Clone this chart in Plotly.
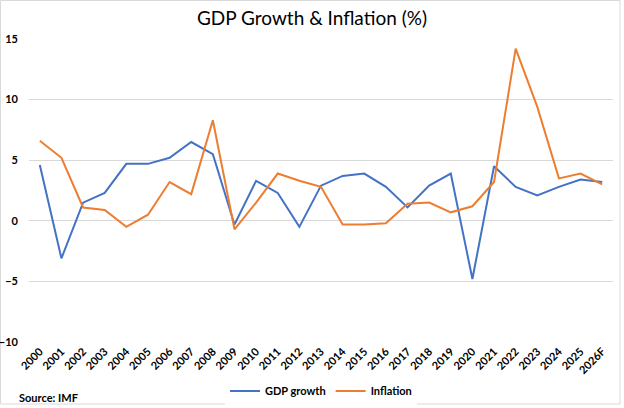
import plotly.graph_objects as go

years = [str(y) for y in range(2000, 2026)] + ["2026F"]
gdp_growth = [4.6, -3.1, 1.5, 2.3, 4.7, 4.7, 5.2, 6.5, 5.5, -0.3, 3.3, 2.3, -0.5,
              2.9, 3.7, 3.9, 2.8, 1.1, 2.9, 3.9, -4.8, 4.5, 2.8, 2.1, 2.8, 3.4, 3.2]
inflation = [6.6, 5.2, 1.1, 0.9, -0.5, 0.5, 3.2, 2.2, 8.3, -0.7, 1.5, 3.9, 3.3,
             2.8, -0.3, -0.3, -0.2, 1.4, 1.5, 0.7, 1.2, 3.2, 14.2, 9.4, 3.5, 3.9, 3.0]
y_ticks = [-10, -5, 0, 5, 10, 15]

FONT = "Lato"
fig = go.Figure()
fig.add_trace(go.Scatter(x=years, y=gdp_growth, mode="lines", name="GDP growth",
                         line=dict(color="#4472C4", width=2)))
fig.add_trace(go.Scatter(x=years, y=inflation, mode="lines", name="Inflation",
                         line=dict(color="#ED7D31", width=2)))

W, H = 624, 408
ml, mr, mt, mb = 29, 11, 39, 66
pw, ph = W - ml - mr, H - mt - mb

def px(x):
    return (x - ml) / pw

def py(y):
    return (H - mb - y) / ph

fig.update_layout(
    width=W, height=H,
    margin=dict(l=ml, r=mr, t=mt, b=mb, autoexpand=False),
    paper_bgcolor="white", plot_bgcolor="white",
    font=dict(family=FONT, color="#000000"),
    title=dict(text="GDP Growth & Inflation (%)", x=0.5, xanchor="center",
               y=1 - 18 / H, yanchor="middle",
               font=dict(family=FONT, size=19, color="#000000")),
    xaxis=dict(type="category", range=[-0.5, len(years) - 0.5], automargin=False,
               tickangle=-45, showgrid=False, showline=False, ticks="",
               tickfont=dict(family=FONT, size=11, color="#000000", weight="bold")),
    yaxis=dict(range=[-10, 15], tickvals=y_ticks, showgrid=True, automargin=False,
               gridcolor="#d9d9d9", gridwidth=1, zeroline=False, showline=False,
               ticks="", ticklabelstandoff=10,
               tickfont=dict(family=FONT, size=11, color="#000000", weight="bold")),
    legend=dict(orientation="h", x=0.5, xanchor="center", y=py(391), yanchor="middle",
                font=dict(family=FONT, size=11, color="#000000", weight="bold"),
                itemwidth=30, tracegroupgap=0),
    showlegend=True,
)
fig.add_annotation(text="Source: IMF", x=px(17), y=py(397), xref="paper", yref="paper",
                   xanchor="left", yanchor="middle", showarrow=False,
                   font=dict(family=FONT, size=11, color="#000000", weight="bold"))
fig.add_shape(type="rect", xref="paper", yref="paper",
              x0=px(0.5), x1=px(620), y0=py(404), y1=py(0.5),
              line=dict(color="#d9d9d9", width=1), fillcolor="rgba(0,0,0,0)", layer="below")

fig.write_html("out.html")
